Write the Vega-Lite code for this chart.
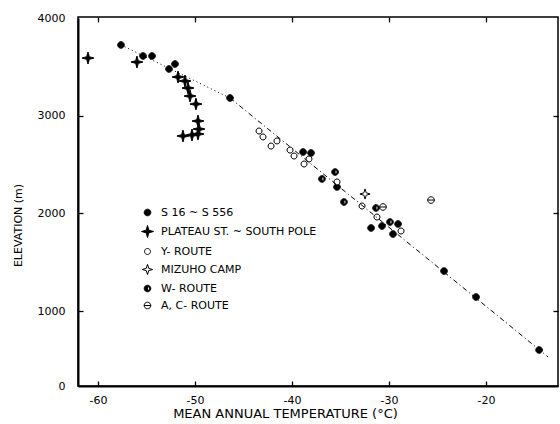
{
  "$schema": "https://vega.github.io/schema/vega-lite/v6.json",
  "width": 480,
  "height": 369,
  "autosize": {"type": "none"},
  "padding": {"left": 78, "top": 17, "right": 2, "bottom": 38},
  "background": "white",
  "config": {
    "view": {"stroke": "black", "strokeWidth": 1.5},
    "axis": {
      "grid": false,
      "domainColor": "black",
      "domainWidth": 2,
      "tickColor": "black",
      "tickWidth": 1.3,
      "labelColor": "black",
      "titleColor": "black",
      "labelFont": "DejaVu Sans",
      "titleFont": "DejaVu Sans",
      "labelFontSize": 11,
      "titleFontSize": 12,
      "titleFontWeight": "normal"
    },
    "legend": {
      "orient": "none", "legendX": 63, "legendY": 189, "title": null, "padding": 0,
      "symbolSize": 144, "symbolStrokeWidth": 1, "symbolOpacity": 1,
      "rowPadding": 5, "labelOffset": 7, "labelFont": "DejaVu Sans", "labelFontSize": 11, "labelColor": "black", "labelLimit": 300
    }
  },
  "resolve": {"axis": {"x": "independent", "y": "independent"}},
  "layer": [
    {
      "data": {
        "values": [
          {"T": -57.63, "E": 3724, "s": "S 16 ~ S 556"},
          {"T": -55.36, "E": 3611, "s": "S 16 ~ S 556"},
          {"T": -54.43, "E": 3611, "s": "S 16 ~ S 556"},
          {"T": -52.06, "E": 3529, "s": "S 16 ~ S 556"},
          {"T": -52.68, "E": 3478, "s": "S 16 ~ S 556"},
          {"T": -46.39, "E": 3181, "s": "S 16 ~ S 556"},
          {"T": -38.86, "E": 2628, "s": "S 16 ~ S 556"},
          {"T": -38.04, "E": 2618, "s": "S 16 ~ S 556"},
          {"T": -35.36, "E": 2270, "s": "S 16 ~ S 556"},
          {"T": -31.85, "E": 1850, "s": "S 16 ~ S 556"},
          {"T": -30.72, "E": 1870, "s": "S 16 ~ S 556"},
          {"T": -29.59, "E": 1788, "s": "S 16 ~ S 556"},
          {"T": -29.07, "E": 1891, "s": "S 16 ~ S 556"},
          {"T": -24.33, "E": 1409, "s": "S 16 ~ S 556"},
          {"T": -21.03, "E": 1143, "s": "S 16 ~ S 556"},
          {"T": -14.53, "E": 480, "s": "S 16 ~ S 556"},
          {"T": -61.03, "E": 3590, "s": "PLATEAU ST. ~ SOUTH POLE"},
          {"T": -55.98, "E": 3549, "s": "PLATEAU ST. ~ SOUTH POLE"},
          {"T": -51.75, "E": 3396, "s": "PLATEAU ST. ~ SOUTH POLE"},
          {"T": -51.03, "E": 3355, "s": "PLATEAU ST. ~ SOUTH POLE"},
          {"T": -50.72, "E": 3283, "s": "PLATEAU ST. ~ SOUTH POLE"},
          {"T": -50.51, "E": 3201, "s": "PLATEAU ST. ~ SOUTH POLE"},
          {"T": -49.9, "E": 3119, "s": "PLATEAU ST. ~ SOUTH POLE"},
          {"T": -49.69, "E": 2945, "s": "PLATEAU ST. ~ SOUTH POLE"},
          {"T": -49.59, "E": 2863, "s": "PLATEAU ST. ~ SOUTH POLE"},
          {"T": -51.24, "E": 2792, "s": "PLATEAU ST. ~ SOUTH POLE"},
          {"T": -50.31, "E": 2802, "s": "PLATEAU ST. ~ SOUTH POLE"},
          {"T": -49.69, "E": 2812, "s": "PLATEAU ST. ~ SOUTH POLE"},
          {"T": -43.4, "E": 2843, "s": "Y- ROUTE"},
          {"T": -42.99, "E": 2782, "s": "Y- ROUTE"},
          {"T": -42.16, "E": 2689, "s": "Y- ROUTE"},
          {"T": -41.55, "E": 2741, "s": "Y- ROUTE"},
          {"T": -40.2, "E": 2648, "s": "Y- ROUTE"},
          {"T": -39.79, "E": 2587, "s": "Y- ROUTE"},
          {"T": -38.25, "E": 2556, "s": "Y- ROUTE"},
          {"T": -38.76, "E": 2505, "s": "Y- ROUTE"},
          {"T": -35.36, "E": 2321, "s": "Y- ROUTE"},
          {"T": -32.78, "E": 2075, "s": "Y- ROUTE"},
          {"T": -31.24, "E": 1962, "s": "Y- ROUTE"},
          {"T": -28.76, "E": 1819, "s": "Y- ROUTE"},
          {"T": -32.47, "E": 2198, "s": "MIZUHO  CAMP"},
          {"T": -36.91, "E": 2352, "s": "W- ROUTE"},
          {"T": -35.56, "E": 2423, "s": "W- ROUTE"},
          {"T": -34.64, "E": 2116, "s": "W- ROUTE"},
          {"T": -31.34, "E": 2055, "s": "W- ROUTE"},
          {"T": -29.9, "E": 1911, "s": "W- ROUTE"},
          {"T": -30.62, "E": 2065, "s": "A, C- ROUTE"},
          {"T": -25.67, "E": 2136, "s": "A, C- ROUTE"}
        ]
      },
      "mark": {"type": "point", "filled": true, "strokeWidth": 1, "size": 144, "opacity": 1},
      "encoding": {
        "x": {
          "field": "T", "type": "quantitative",
          "scale": {"domain": [-62.06, -12.58], "nice": false, "zero": false},
          "axis": {
            "orient": "bottom",
            "values": [-60, -50, -40, -30, -20],
            "labelExpr": "'' + datum.value",
            "ticks": false,
            "labelPadding": 8,
            "labelBaseline": "top",
            "title": "MEAN ANNUAL TEMPERATURE (°C)",
            "titleFontSize": 13,
            "titleX": 207,
            "titleY": 21,
            "titleBaseline": "top"
          }
        },
        "y": {
          "field": "E", "type": "quantitative",
          "scale": {"domain": [0, 1000, 4000], "range": [369, 294, 1], "nice": false, "zero": false},
          "axis": {
            "orient": "left",
            "values": [0, 1000, 2000, 3000, 4000],
            "format": "d",
            "ticks": false,
            "labelPadding": 13,
            "title": "ELEVATION (m)",
            "titleFontSize": 11,
            "titleX": -60,
            "titleY": 208,
            "titleAngle": 270,
            "titleAlign": "center",
            "titleBaseline": "middle"
          }
        },
        "shape": {
          "field": "s", "type": "nominal",
          "scale": {
            "domain": ["S 16 ~ S 556", "PLATEAU ST. ~ SOUTH POLE", "Y- ROUTE", "MIZUHO  CAMP", "W- ROUTE", "A, C- ROUTE"],
            "range": [
              "M-0.55,0A0.55,0.55 0 1,1 0.55,0A0.55,0.55 0 1,1 -0.55,0Z",
              "M0,-1L0.22,-0.22L1,0L0.22,0.22L0,1L-0.22,0.22L-1,0L-0.22,-0.22Z",
              "M-0.5,0A0.5,0.5 0 1,1 0.5,0A0.5,0.5 0 1,1 -0.5,0Z",
              "M0,-0.85L0.2,-0.2L0.85,0L0.2,0.2L0,0.85L-0.2,0.2L-0.85,0L-0.2,-0.2Z",
              "M-0.55,0A0.55,0.55 0 1,1 0.55,0A0.55,0.55 0 1,1 -0.55,0ZM-0.33,0A0.33,0.33 0 1,0 0.33,0A0.33,0.33 0 1,0 -0.33,0ZM0,0.33A0.33,0.33 0 0,1 0,-0.33Z",
              "M-0.55,0A0.55,0.55 0 1,1 0.55,0A0.55,0.55 0 1,1 -0.55,0ZM-0.55,0L0.55,0"
            ]
          }
        },
        "fill": {
          "field": "s", "type": "nominal",
          "scale": {
            "domain": ["S 16 ~ S 556", "PLATEAU ST. ~ SOUTH POLE", "Y- ROUTE", "MIZUHO  CAMP", "W- ROUTE", "A, C- ROUTE"],
            "range": ["black", "black", "white", "white", "black", "white"]
          }
        },
        "stroke": {
          "field": "s", "type": "nominal",
          "scale": {
            "domain": ["S 16 ~ S 556", "PLATEAU ST. ~ SOUTH POLE", "Y- ROUTE", "MIZUHO  CAMP", "W- ROUTE", "A, C- ROUTE"],
            "range": ["black", "black", "black", "black", "black", "black"]
          }
        }
      }
    },
    {
      "data": {
        "values": [
          {"T": -57.63, "E": 3724},
          {"T": -46.39, "E": 3181}
        ]
      },
      "mark": {"type": "line", "color": "black", "strokeWidth": 1, "strokeDash": [1, 3]},
      "encoding": {
        "x": {
          "field": "T", "type": "quantitative",
          "axis": {"orient": "top", "values": [-60, -50, -40, -30, -20], "labels": false, "domain": false, "tickSize": 5, "offset": -5, "title": null}
        },
        "y": {
          "field": "E", "type": "quantitative",
          "axis": {"orient": "right", "values": [1000, 2000, 3000], "labels": false, "domain": false, "tickSize": 5, "offset": -5, "title": null}
        }
      }
    },
    {
      "data": {
        "values": [
          {"T": -46.39, "E": 3181},
          {"T": -19.4, "E": 1000},
          {"T": -13.6, "E": 387}
        ]
      },
      "mark": {"type": "line", "color": "black", "strokeWidth": 1, "strokeDash": [5, 3, 1, 3]},
      "encoding": {
        "x": {
          "field": "T", "type": "quantitative",
          "axis": {"orient": "bottom", "values": [-60, -50, -40, -30, -20], "labels": false, "domain": false, "tickSize": 5, "offset": -5, "title": null}
        },
        "y": {
          "field": "E", "type": "quantitative",
          "axis": {"orient": "left", "values": [1000, 2000, 3000], "labels": false, "domain": false, "tickSize": 5, "offset": -5, "title": null}
        }
      }
    }
  ]
}
